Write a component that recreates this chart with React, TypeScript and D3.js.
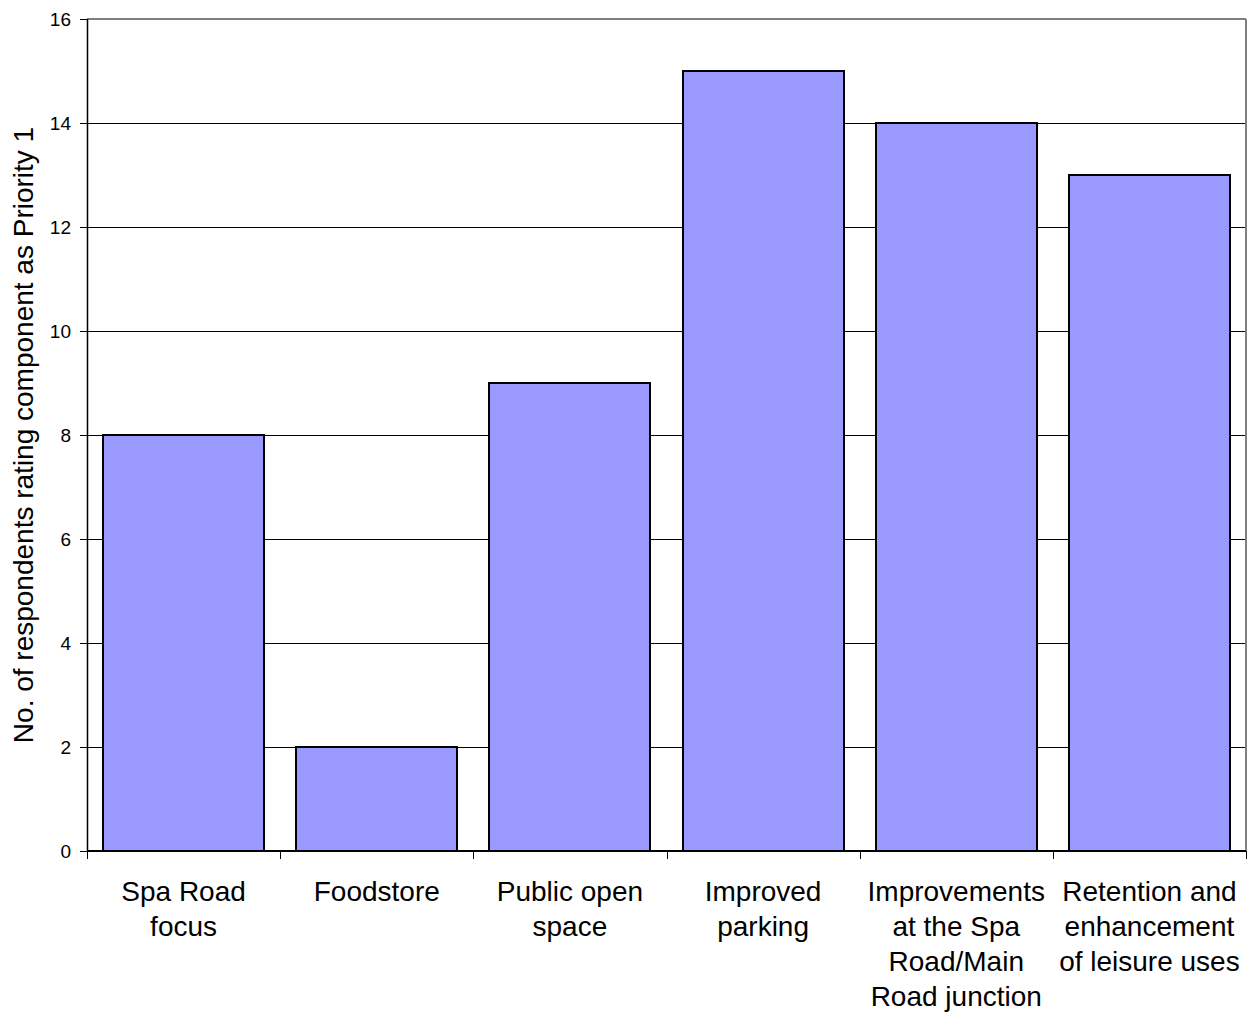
import React from "react";
import * as d3 from "d3";

const categories = [
  "Spa Road\nfocus",
  "Foodstore",
  "Public open\nspace",
  "Improved\nparking",
  "Improvements\nat the Spa\nRoad/Main\nRoad junction",
  "Retention and\nenhancement\nof leisure uses",
];
const values = [8, 2, 9, 15, 14, 13];
const yTicks = [0, 2, 4, 6, 8, 10, 12, 14, 16];
const yTitle = "No. of respondents rating component as Priority 1";

export default function App() {
  const W = 1249, H = 1012;
  const left = 87, right = 1246, top = 19, bottom = 851;
  const x = d3.scaleBand<number>().domain(d3.range(categories.length)).range([left, right]).paddingInner(0.166).paddingOuter(0.083);
  const y = d3.scaleLinear().domain([0, 16]).range([bottom, top]);
  const step = (right - left) / categories.length;
  const font = "Arial, 'Liberation Sans', sans-serif";
  return (
    <svg width={W} height={H} style={{ position: "absolute", left: 0, top: 0 }} fontFamily={font}>
      <rect x={0} y={0} width={W} height={H} fill="#fff" />
      {yTicks.filter(t => t > 0 && t < 16).map(t => (
        <line key={t} x1={left} x2={right} y1={y(t) + 0.5} y2={y(t) + 0.5} stroke="#000" strokeWidth={1} />
      ))}
      <line x1={left} x2={right} y1={top} y2={top} stroke="#808080" strokeWidth={2} />
      <line x1={right} x2={right} y1={top} y2={bottom} stroke="#808080" strokeWidth={2} />
      {values.map((v, i) => (
        <rect key={i} x={Math.round(x(i)!)} y={y(v)} width={Math.round(x.bandwidth())} height={bottom - y(v)} fill="#9999FF" stroke="#000" strokeWidth={2} />
      ))}
      <line x1={left + 0.5} x2={left + 0.5} y1={top} y2={bottom} stroke="#000" strokeWidth={1.5} />
      <line x1={left} x2={right} y1={bottom} y2={bottom} stroke="#000" strokeWidth={2} />
      {yTicks.map(t => (
        <g key={t}>
          <line x1={left - 7} x2={left} y1={y(t) + 0.5} y2={y(t) + 0.5} stroke="#000" strokeWidth={1} />
          <text x={left - 16} y={y(t)} dy="0.35em" textAnchor="end" fontSize={19}>{t}</text>
        </g>
      ))}
      {d3.range(categories.length + 1).map(i => (
        <line key={i} x1={Math.round(left + i * step) + 0.5} x2={Math.round(left + i * step) + 0.5} y1={bottom} y2={bottom + 8} stroke="#000" strokeWidth={1} />
      ))}
      {categories.map((c, i) => (
        <text key={i} x={x(i)! + x.bandwidth() / 2} y={901} textAnchor="middle" fontSize={28}>
          {c.split("\n").map((line, j) => (
            <tspan key={j} x={x(i)! + x.bandwidth() / 2} dy={j === 0 ? 0 : 35}>{line}</tspan>
          ))}
        </text>
      ))}
      <text transform={`translate(33, ${(top + bottom) / 2}) rotate(-90)`} textAnchor="middle" fontSize={28}>{yTitle}</text>
    </svg>
  );
}
